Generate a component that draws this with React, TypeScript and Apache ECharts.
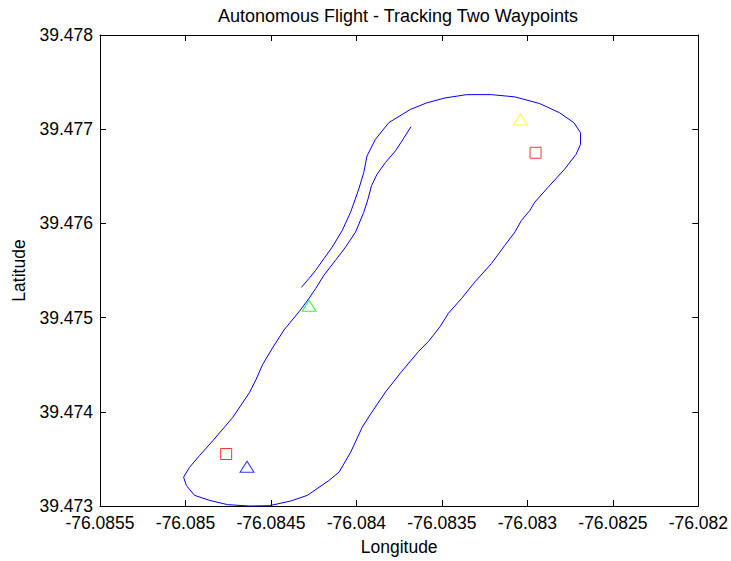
import React, { useEffect, useRef } from "react";
import * as echarts from "echarts";

// Flight track, longitude / latitude in degrees
const trackLon = [
  -76.083681, -76.083734, -76.083772, -76.08383, -76.083879, -76.083912, -76.083932, -76.083957,
  -76.084005, -76.084063, -76.084122, -76.08419, -76.084238, -76.084277, -76.084335, -76.084423,
  -76.084491, -76.084549, -76.084587, -76.084626, -76.084724, -76.08484, -76.084918, -76.084976,
  -76.085011, -76.084995, -76.084947, -76.084859, -76.084753, -76.084626, -76.08451, -76.084384,
  -76.084287, -76.084161, -76.084102, -76.084034, -76.083967, -76.083918, -76.08383, -76.083734,
  -76.083636, -76.083578, -76.08351, -76.083462, -76.083384, -76.083306, -76.08321, -76.083132,
  -76.083073, -76.083035, -76.082986, -76.082957, -76.082879, -76.082782, -76.082715, -76.082689,
  -76.082689, -76.082728, -76.082811, -76.082928, -76.083073, -76.08321, -76.083355, -76.083481,
  -76.083588, -76.083685, -76.083811, -76.083889, -76.083938, -76.083957, -76.083986, -76.084034,
  -76.084083, -76.084141, -76.08419, -76.084238, -76.084277, -76.084322,
];
const trackLat = [
  39.477026, 39.476874, 39.476769, 39.476647, 39.476523, 39.4764, 39.47626, 39.476119,
  39.475908, 39.47575, 39.475609, 39.47545, 39.47531, 39.475205, 39.475064, 39.47487,
  39.474677, 39.474501, 39.474343, 39.474203, 39.473939, 39.473693, 39.473535, 39.473411,
  39.473306, 39.473218, 39.473113, 39.47306, 39.473014, 39.473, 39.473003, 39.473053,
  39.473113, 39.473271, 39.473359, 39.47357, 39.473833, 39.473974, 39.47421, 39.474431,
  39.474642, 39.474748, 39.474906, 39.475046, 39.475205, 39.475381, 39.475574, 39.475767,
  39.475908, 39.476031, 39.476136, 39.476225, 39.476383, 39.476576, 39.476734, 39.47684,
  39.476963, 39.477069, 39.477174, 39.477272, 39.477343, 39.477367, 39.477367, 39.477332,
  39.47728, 39.477209, 39.477069, 39.476892, 39.476716, 39.476541, 39.476365, 39.476119,
  39.475925, 39.47575, 39.475627, 39.475503, 39.475416, 39.475321,
];

// Waypoints (squares)
const waypointLon = [-76.084762, -76.082952];
const waypointLat = [39.473552, 39.47675];

// Triangle markers and their colours
const triangleLon = [-76.08464, -76.084277, -76.083041];
const triangleLat = [39.473417, 39.475126, 39.477103];
const triangleColors = ["#0000ff", "#00ff00", "#ffff00"];

const xMin = -76.0855;
const xMax = -76.082;
const xStep = 0.0005;
const yMin = 39.473;
const yMax = 39.478;
const yStep = 0.001;

const TITLE = "Autonomous Flight - Tracking Two Waypoints";
const FONT = "'Liberation Sans', Arial, Helvetica, sans-serif";

export default function App() {
  const ref = useRef<HTMLDivElement>(null);

  useEffect(() => {
    document.body.style.margin = "0";
    if (!ref.current) return;
    const chart = echarts.init(ref.current, undefined, { renderer: "svg" });

    const axisBase = {
      type: "value" as const,
      axisLine: { show: true, onZero: false, lineStyle: { color: "#000", width: 1 } },
      axisTick: { show: true, inside: true, length: 6, lineStyle: { color: "#000", width: 1 } },
      splitLine: { show: false },
    };

    const xFmt = (v: number) => String(Number(v.toFixed(4)));
    const yFmt = (v: number) => v.toFixed(3);

    chart.setOption({
      animation: false,
      backgroundColor: "#ffffff",
      graphic: [
        {
          type: "text",
          x: 398,
          y: 16,
          silent: true,
          style: {
            text: TITLE,
            align: "center",
            verticalAlign: "middle",
            fontFamily: FONT,
            fontSize: 18,
            fill: "#000",
          },
        },
      ],
      grid: { left: 100, right: 30, top: 35, bottom: 52, containLabel: false },
      xAxis: [
        {
          ...axisBase,
          position: "bottom",
          min: xMin,
          max: xMax,
          interval: xStep,
          name: "Longitude",
          nameLocation: "middle",
          nameGap: 32,
          nameTextStyle: { fontFamily: FONT, fontSize: 17.5, color: "#000" },
          axisLabel: {
            formatter: xFmt,
            margin: 8,
            fontFamily: FONT,
            fontSize: 17.5,
            color: "#000",
          },
        },
        {
          ...axisBase,
          position: "top",
          min: xMin,
          max: xMax,
          interval: xStep,
          axisLabel: { show: false },
        },
      ],
      yAxis: [
        {
          ...axisBase,
          position: "left",
          min: yMin,
          max: yMax,
          interval: yStep,
          name: "Latitude",
          nameLocation: "middle",
          nameGap: 72,
          nameRotate: 90,
          nameTextStyle: { fontFamily: FONT, fontSize: 17.5, color: "#000" },
          axisLabel: {
            formatter: yFmt,
            margin: 7,
            fontFamily: FONT,
            fontSize: 17.5,
            color: "#000",
          },
        },
        {
          ...axisBase,
          position: "right",
          min: yMin,
          max: yMax,
          interval: yStep,
          axisLabel: { show: false },
        },
      ],
      series: [
        {
          type: "line",
          data: trackLon.map((lon, i) => [lon, trackLat[i]]),
          showSymbol: false,
          symbol: "none",
          clip: false,
          lineStyle: { color: "#0000ff", width: 1 },
          silent: true,
        },
        {
          type: "scatter",
          data: waypointLon.map((lon, i) => [lon, waypointLat[i]]),
          symbol: "rect",
          symbolSize: 11,
          itemStyle: { color: "none", borderColor: "#ff0000", borderWidth: 1 },
          silent: true,
        },
        {
          type: "scatter",
          data: triangleLon.map((lon, i) => ({
            value: [lon, triangleLat[i]],
            itemStyle: { color: "none", borderColor: triangleColors[i], borderWidth: 1 },
          })),
          symbol: "triangle",
          symbolSize: [14, 11],
          silent: true,
        },
      ],
    });

    return () => chart.dispose();
  }, []);

  return <div ref={ref} style={{ width: 731, height: 561 }} />;
}
